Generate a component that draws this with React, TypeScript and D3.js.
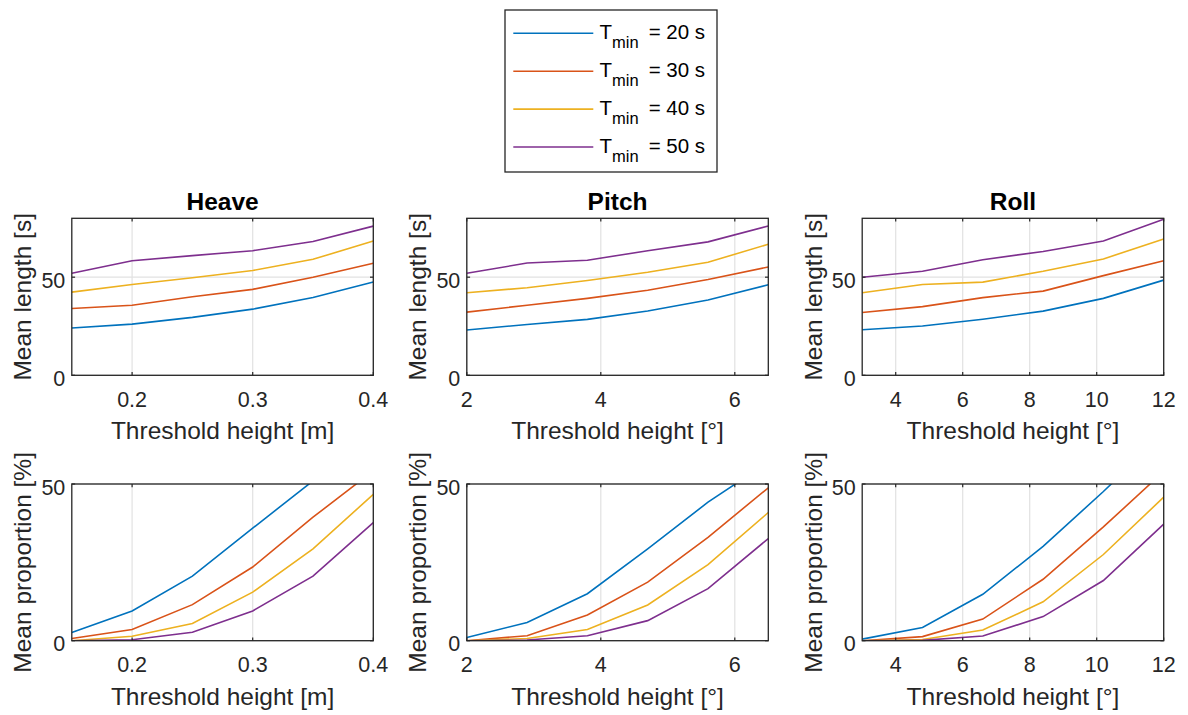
import React from "react";
import * as d3 from "d3";

// ---- data ----
const seriesNames = ["T_min = 20 s", "T_min = 30 s", "T_min = 40 s", "T_min = 50 s"];
const tminLabels = ["20", "30", "40", "50"];
const colors = ["#0072BD", "#D95319", "#EDB120", "#7E2F8E"];

const heaveX = [0.15, 0.2, 0.25, 0.3, 0.35, 0.4];
const pitchX = [2, 2.9, 3.8, 4.7, 5.6, 6.5];
const rollX = [3, 4.8, 6.6, 8.4, 10.2, 12];

// Mean length [s]
const heaveLength = [
  [24.1, 26.1, 29.5, 33.7, 39.6, 47.5],
  [34.0, 35.7, 40.0, 43.8, 50.0, 57.1],
  [42.4, 46.3, 49.7, 53.4, 59.1, 68.4],
  [52.0, 58.4, 61.0, 63.5, 68.2, 76.0],
];
const pitchLength = [
  [23.1, 25.9, 28.5, 32.8, 38.4, 46.1],
  [32.2, 35.7, 39.2, 43.3, 48.8, 55.2],
  [42.1, 44.6, 48.3, 52.5, 57.6, 66.8],
  [52.0, 57.2, 58.6, 63.5, 68.0, 76.1],
];
const rollLength = [
  [23.2, 25.1, 28.6, 32.7, 39.2, 48.5],
  [32.0, 35.0, 39.6, 42.9, 50.8, 58.4],
  [42.1, 46.3, 47.5, 53.0, 59.3, 69.4],
  [50.0, 53.0, 58.9, 63.1, 68.4, 79.5],
];

// Mean proportion [%]
const heaveProp = [
  [2.6, 9.5, 20.6, 35.9, 51.0, 68.0],
  [0.7, 3.6, 11.5, 23.5, 39.4, 54.2],
  [0.0, 1.4, 5.5, 15.5, 29.3, 46.7],
  [0.0, 0.3, 2.7, 9.5, 20.6, 37.7],
];
const pitchProp = [
  [1.0, 5.8, 15.0, 29.3, 44.2, 57.0],
  [0.0, 1.6, 8.2, 18.7, 33.0, 48.8],
  [0.0, 0.7, 3.6, 11.4, 24.3, 40.9],
  [0.0, 0.2, 1.6, 6.4, 16.6, 32.6],
];
const rollProp = [
  [0.5, 4.2, 14.8, 30.1, 47.6, 66.0],
  [0.0, 1.3, 6.9, 19.6, 36.3, 54.0],
  [0.0, 0.4, 3.4, 12.4, 27.5, 45.8],
  [0.0, 0.1, 1.5, 7.7, 19.2, 37.2],
];

const heaveTicks = [0.2, 0.3, 0.4];
const pitchTicks = [2, 4, 6];
const rollTicks = [4, 6, 8, 10, 12];
const lengthTicks = [0, 50];
const propTicks = [0, 50];

const titles = ["Heave", "Pitch", "Roll"];
const xLabels = ["Threshold height [m]", "Threshold height [°]", "Threshold height [°]"];

// ---- layout ----
const W = 1188;
const H = 715;
const FONT = "'Liberation Sans', Arial, Helvetica, sans-serif";
const INK = "#262626";
const GRID = "#e2e2e2";

const colLeft = [71.8, 466.8, 862.2];
const colW = 301.5;
const rowTop = [218.3, 484];
const rowBottom = [375.3, 640.7];

type PanelDef = {
  xs: number[];
  ys: number[][];
  xDomain: [number, number];
  yDomain: [number, number];
  xTicks: number[];
  yTicks: number[];
  xFmt: (v: number) => string;
  yLabel: string;
  title?: string;
  xLabel: string;
};

function Panel({ p, left, top, bottom, id }: { p: PanelDef; left: number; top: number; bottom: number; id: string }) {
  const x = d3.scaleLinear().domain(p.xDomain).range([left, left + colW]);
  const y = d3.scaleLinear().domain(p.yDomain).range([bottom, top]);
  const line = d3
    .line<number>()
    .x((_, i) => x(p.xs[i]))
    .y((d) => y(d));
  const tickLen = 3.3;
  const right = left + colW;
  const midX = (left + right) / 2;
  const midY = (top + bottom) / 2;
  return (
    <g>
      <defs>
        <clipPath id={id}>
          <rect x={left} y={top} width={colW} height={bottom - top} />
        </clipPath>
      </defs>
      {p.xTicks.map((t) => (
        <line key={"gx" + t} x1={x(t)} x2={x(t)} y1={top} y2={bottom} stroke={GRID} strokeWidth={1.2} />
      ))}
      {p.yTicks.map((t) => (
        <line key={"gy" + t} x1={left} x2={right} y1={y(t)} y2={y(t)} stroke={GRID} strokeWidth={1.2} />
      ))}
      <g clipPath={`url(#${id})`}>
        {p.ys.map((s, i) => (
          <path key={i} d={line(s) || ""} fill="none" stroke={colors[i]} strokeWidth={1.6} />
        ))}
      </g>
      <rect x={left} y={top} width={colW} height={bottom - top} fill="none" stroke={INK} strokeWidth={1.3} />
      {p.xTicks.map((t) => (
        <g key={"tx" + t}>
          <line x1={x(t)} x2={x(t)} y1={bottom} y2={bottom - tickLen} stroke={INK} strokeWidth={1.2} />
          <line x1={x(t)} x2={x(t)} y1={top} y2={top + tickLen} stroke={INK} strokeWidth={1.2} />
          <text x={x(t)} y={bottom + 31.4} textAnchor="middle" fontSize={21.5} fill={INK} fontFamily={FONT}>
            {p.xFmt(t)}
          </text>
        </g>
      ))}
      {p.yTicks.map((t) => (
        <g key={"ty" + t}>
          <line x1={left} x2={left + tickLen} y1={y(t)} y2={y(t)} stroke={INK} strokeWidth={1.2} />
          <line x1={right} x2={right - tickLen} y1={y(t)} y2={y(t)} stroke={INK} strokeWidth={1.2} />
          <text x={left - 6.5} y={y(t) + 10.5} textAnchor="end" fontSize={21.5} fill={INK} fontFamily={FONT}>
            {t}
          </text>
        </g>
      ))}
      <text x={midX} y={bottom + 64} textAnchor="middle" fontSize={24.5} fill={INK} fontFamily={FONT}>
        {p.xLabel}
      </text>
      <text
        transform={`translate(${left - 40.5},${midY}) rotate(-90)`}
        textAnchor="middle"
        fontSize={24.5}
        fill={INK}
        fontFamily={FONT}
      >
        {p.yLabel}
      </text>
      {p.title && (
        <text x={midX} y={210} textAnchor="middle" fontSize={24.5} fontWeight="bold" fill="#000" fontFamily={FONT}>
          {p.title}
        </text>
      )}
    </g>
  );
}

export default function App() {
  const fmtHeave = (v: number) => d3.format(".1f")(v);
  const fmtInt = (v: number) => String(v);
  const xsAll = [heaveX, pitchX, rollX];
  const xDomains: [number, number][] = [
    [0.15, 0.4],
    [2, 6.5],
    [3, 12],
  ];
  const xTicksAll = [heaveTicks, pitchTicks, rollTicks];
  const fmts = [fmtHeave, fmtInt, fmtInt];
  const lengths = [heaveLength, pitchLength, rollLength];
  const props = [heaveProp, pitchProp, rollProp];

  const panels: { p: PanelDef; row: number; col: number }[] = [];
  for (let c = 0; c < 3; c++) {
    panels.push({
      row: 0,
      col: c,
      p: {
        xs: xsAll[c],
        ys: lengths[c],
        xDomain: xDomains[c],
        yDomain: [0, 80],
        xTicks: xTicksAll[c],
        yTicks: lengthTicks,
        xFmt: fmts[c],
        yLabel: "Mean length [s]",
        title: titles[c],
        xLabel: xLabels[c],
      },
    });
    panels.push({
      row: 1,
      col: c,
      p: {
        xs: xsAll[c],
        ys: props[c],
        xDomain: xDomains[c],
        yDomain: [0, 50],
        xTicks: xTicksAll[c],
        yTicks: propTicks,
        xFmt: fmts[c],
        yLabel: "Mean proportion [%]",
        xLabel: xLabels[c],
      },
    });
  }

  const legY = d3.scaleLinear().domain([0, 3]).range([33.3, 147]);

  return (
    <svg width={W} height={H} style={{ position: "absolute", left: 0, top: 0, background: "#fff" }}>
      <rect width={W} height={H} fill="#fff" />
      {panels.map(({ p, row, col }) => (
        <Panel
          key={`${row}-${col}`}
          p={p}
          left={colLeft[col]}
          top={rowTop[row]}
          bottom={rowBottom[row]}
          id={`clip-${row}-${col}`}
        />
      ))}
      <rect x={505} y={10} width={212} height={162} fill="#fff" stroke={INK} strokeWidth={1.3} />
      {seriesNames.map((name, i) => (
        <g key={name}>
          <line x1={513.3} x2={593.3} y1={legY(i)} y2={legY(i)} stroke={colors[i]} strokeWidth={1.6} />
          <text x={599.5} y={legY(i) + 5.5} fontSize={20.5} fill="#000" fontFamily={FONT}>
            T
            <tspan dy={9} fontSize={16.5}>
              min
            </tspan>
            <tspan dy={-9} dx={10}>
              {`= ${tminLabels[i]} s`}
            </tspan>
          </text>
        </g>
      ))}
    </svg>
  );
}
